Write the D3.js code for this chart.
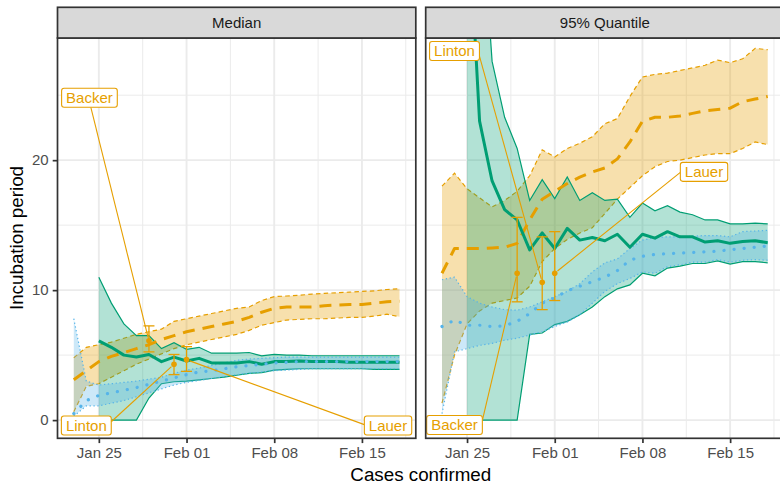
<!DOCTYPE html>
<html><head><meta charset="utf-8">
<script src="https://cdn.jsdelivr.net/npm/d3@7"></script>
<style>body{margin:0;background:#fff;overflow:hidden} svg{display:block}</style>
</head><body><svg id="c" width="780" height="484"></svg>
<script>
// ---------------- DATA ----------------
const dates = ["2020-01-23","2020-01-24","2020-01-25","2020-01-26","2020-01-27","2020-01-28","2020-01-29",
  "2020-01-30","2020-01-31","2020-02-01","2020-02-02","2020-02-03","2020-02-04","2020-02-05","2020-02-06",
  "2020-02-07","2020-02-08","2020-02-09","2020-02-10","2020-02-11","2020-02-12","2020-02-13","2020-02-14",
  "2020-02-15","2020-02-16","2020-02-17","2020-02-18"];
const panelNames = ["Median", "95% Quantile"];

// Median panel
const medOrangeMid = [3.1,3.8,4.5,4.9,5.2,5.5,5.8,6.2,6.5,6.8,7.0,7.2,7.4,7.6,7.9,8.3,8.6,8.7,8.7,8.7,8.8,8.85,8.9,8.9,9.0,9.1,9.15];
const medOrangeHi  = [4.8,5.6,5.8,6.0,6.3,6.6,6.8,7.0,7.6,7.8,8.0,8.2,8.4,8.6,8.7,9.2,9.5,9.55,9.6,9.7,9.75,9.8,9.85,9.9,9.95,10.05,10.1];
const medOrangeLo  = [0.64,2.6,2.8,3.3,3.8,4.3,4.7,5.1,5.5,5.8,6.0,6.2,6.4,6.6,6.9,7.3,7.5,7.7,7.75,7.8,7.8,7.85,7.9,7.9,8.0,8.15,7.95];
const medGreenMid  = [null,null,6.1,5.6,5.0,4.85,5.05,4.5,4.85,4.55,4.75,4.4,4.4,4.4,4.5,4.3,4.5,4.5,4.55,4.5,4.5,4.5,4.45,4.45,4.45,4.45,4.45];
const medGreenHi   = [null,null,11.0,9.0,7.4,6.5,6.5,5.5,5.95,5.45,5.6,5.15,5.15,5.15,5.2,4.95,5.05,5.0,5.0,4.95,4.95,4.95,4.95,4.95,4.95,4.95,4.95];
const medGreenLo   = [null,null,0,0,0,0,1.7,2.8,2.95,3.0,3.1,3.2,3.3,3.45,3.6,3.65,3.85,3.9,3.95,3.95,3.95,3.95,3.95,3.95,3.9,3.9,3.9];
const medBlueMid   = [0.5,1.5,1.9,2.1,2.3,2.5,2.75,3.0,3.25,3.5,3.7,3.8,3.95,4.1,4.2,4.3,4.4,4.45,4.5,4.5,4.5,4.5,4.5,4.5,4.5,4.5,4.5];
const medBlueHi    = [7.8,3.0,2.7,2.8,2.9,3.0,3.15,3.3,3.6,3.85,4.0,4.2,4.4,4.6,4.7,4.75,4.8,4.85,4.85,4.85,4.85,4.85,4.85,4.85,4.85,4.85,4.85];
const medBlueLo    = [0.3,1.1,1.1,1.3,1.5,1.8,2.1,2.4,2.7,2.9,3.05,3.2,3.35,3.5,3.6,3.7,3.8,3.85,3.9,3.95,3.95,3.95,3.95,3.95,3.95,3.95,3.95];

// 95% quantile panel
const q95OrangeMid = [11.3,13.2,13.2,13.2,13.25,13.3,13.6,15.4,17.0,17.6,18.2,18.7,19.1,19.4,20.1,21.4,23.0,23.3,23.3,23.4,23.6,23.8,23.9,24.0,24.5,24.7,24.9];
const q95OrangeHi  = [18.0,19.0,17.8,17.1,16.4,16.9,17.6,18.8,20.8,20.25,20.9,21.3,21.8,22.8,23.2,24.9,26.4,26.6,26.7,26.9,27.1,27.3,27.7,27.5,27.8,28.6,28.5];
const q95OrangeLo  = [1.3,5.0,7.4,8.4,9.0,9.2,9.4,10.3,12.2,13.2,13.9,14.4,14.8,15.9,17.0,17.9,18.8,19.5,19.9,20.0,20.2,20.4,20.5,20.5,20.9,21.4,21.2];
const q95GreenMid  = [null,null,40.8,23.0,18.4,16.2,15.4,13.1,14.4,13.2,14.75,13.85,14.05,13.8,14.3,13.3,14.3,14.0,14.5,14.1,14.1,13.7,13.8,13.6,13.75,13.8,13.65];
const q95GreenHi   = [null,null,60,41.6,27.6,23.3,20.9,16.9,18.5,17.05,18.7,16.9,17.5,16.9,17.0,15.6,16.7,16.1,16.5,16.0,15.8,15.4,15.4,15.1,15.1,15.15,15.1];
const q95GreenLo   = [null,null,0,0,0,0,0,6.6,6.7,7.35,7.6,8.1,8.7,9.5,10.1,10.4,11.3,11.1,11.7,11.85,12.05,12.05,12.25,12.0,12.2,12.2,12.1];
const q95BlueMid   = [7.2,7.7,7.3,7.3,7.2,7.25,7.6,8.2,9.0,9.4,9.95,10.3,10.65,11.0,11.5,12.3,12.6,12.75,12.8,12.85,12.9,12.95,13.0,13.1,13.2,13.3,13.4];
const q95BlueHi    = [10.8,11.0,9.5,9.0,8.7,8.5,8.45,8.7,9.1,9.5,9.9,10.5,11.4,12.1,12.4,13.2,13.85,14.05,14.1,14.1,14.15,14.2,14.2,14.1,14.5,14.55,14.6];
const q95BlueLo    = [0.5,5.25,5.5,5.75,5.9,6.15,6.3,6.55,6.8,7.2,7.55,8.1,9.0,9.9,10.5,10.9,11.4,11.3,11.8,11.95,12.15,12.15,12.35,12.15,12.3,12.35,12.3];

// Published estimates
const studies     = ["Backer", "Linton", "Lauer"];
const studyDates  = ["2020-01-29", "2020-01-31", "2020-02-01"];
const medStudyEst = [6.1, 4.3, 4.65];
const medStudyLo  = [5.25, 3.5, 3.75];
const medStudyHi  = [7.25, 5.05, 5.65];
const q95StudyEst = [11.3, 10.6, 11.3];
const q95StudyLo  = [9.1, 8.5, 9.2];
const q95StudyHi  = [15.6, 14.1, 14.5];

const xTickDates  = ["2020-01-25", "2020-02-01", "2020-02-08", "2020-02-15"];
const xTickLabels = ["Jan 25", "Feb 01", "Feb 08", "Feb 15"];
const xMinorDates = ["2020-01-21T12:00:00Z", "2020-01-28T12:00:00Z", "2020-02-04T12:00:00Z", "2020-02-11T12:00:00Z", "2020-02-18T12:00:00Z"];
const yTicks      = [0, 10, 20];
const yMinor      = [5, 15, 25];

// label placement (data units) and segment start on the box (fractions of half-size)
const labelLayout = [
  { Backer: {d:"2020-01-24T06:00:00Z", v:24.8, fx:0.05, fy:1},
    Linton: {d:"2020-01-24T00:00:00Z", v:-0.42, fx:1, fy:-0.4},
    Lauer:  {d:"2020-02-17T02:00:00Z", v:-0.42, fx:-1, fy:-0.1} },
  { Linton: {d:"2020-01-24T00:00:00Z", v:28.4, fx:1, fy:0.55},
    Lauer:  {d:"2020-02-12T22:00:00Z", v:19.1, fx:-1, fy:0.05},
    Backer: {d:"2020-01-24T00:00:00Z", v:-0.38, fx:1, fy:-0.5} }
];

// ---------------- BUILD ----------------
const parse = s => new Date(s.length === 10 ? s + "T00:00:00Z" : s);
const D = dates.map(parse);
const day = 864e5;
const panelsData = [
  { name: panelNames[0],
    orange: [medOrangeLo, medOrangeMid, medOrangeHi], green: [medGreenLo, medGreenMid, medGreenHi], blue: [medBlueLo, medBlueMid, medBlueHi],
    est: medStudyEst, lo: medStudyLo, hi: medStudyHi },
  { name: panelNames[1],
    orange: [q95OrangeLo, q95OrangeMid, q95OrangeHi], green: [q95GreenLo, q95GreenMid, q95GreenHi], blue: [q95BlueLo, q95BlueMid, q95BlueHi],
    est: q95StudyEst, lo: q95StudyLo, hi: q95StudyHi }
];

const COL = { orange: "#E69F00", green: "#009E73", blue: "#56B4E9" };
const FILL = { orange: "rgba(230,159,0,0.32)", green: "rgba(0,158,115,0.3)", blue: "rgba(86,180,233,0.3)" };
const FONT = "'Liberation Sans', Arial, Helvetica, sans-serif";

const svg = d3.select("#c");
const panelTop = 38, panelBottom = 438.3, stripTop = 7.3;
const panelX = [[57.5, 415.8], [425.7, 784]];
const xDomain = [new Date(+D[0] - 1.3 * day), new Date(+D[D.length - 1] + 1.3 * day)];
const y = d3.scaleLinear().domain([-1.4, 29.4]).range([panelBottom, panelTop]);
const defs = svg.append("defs");

panelsData.forEach((P, pi) => {
  const [x0, x1] = panelX[pi];
  const x = d3.scaleUtc().domain(xDomain).range([x0, x1]);
  const g = svg.append("g");
  const clipId = "clip" + pi;
  defs.append("clipPath").attr("id", clipId).append("rect")
    .attr("x", x0).attr("y", panelTop).attr("width", x1 - x0).attr("height", panelBottom - panelTop);

  g.append("rect").attr("x", x0).attr("y", panelTop).attr("width", x1 - x0).attr("height", panelBottom - panelTop).attr("fill", "#fff");
  const grid = g.append("g").attr("clip-path", `url(#${clipId})`);
  // minor grid
  yMinor.forEach(v => grid.append("line").attr("x1", x0).attr("x2", x1).attr("y1", y(v)).attr("y2", y(v)).attr("stroke", "#EBEBEB").attr("stroke-width", 1));
  xMinorDates.forEach(s => grid.append("line").attr("x1", x(parse(s))).attr("x2", x(parse(s))).attr("y1", panelTop).attr("y2", panelBottom).attr("stroke", "#EBEBEB").attr("stroke-width", 1));
  // major grid
  yTicks.forEach(v => grid.append("line").attr("x1", x0).attr("x2", x1).attr("y1", y(v)).attr("y2", y(v)).attr("stroke", "#EBEBEB").attr("stroke-width", 1.9));
  xTickDates.forEach(s => grid.append("line").attr("x1", x(parse(s))).attr("x2", x(parse(s))).attr("y1", panelTop).attr("y2", panelBottom).attr("stroke", "#EBEBEB").attr("stroke-width", 1.9));

  const data = g.append("g").attr("clip-path", `url(#${clipId})`);
  const rows = key => D.map((d, i) => ({ d, lo: P[key][0][i], mid: P[key][1][i], hi: P[key][2][i] }));
  const borderDash = { orange: "4.5,3.2", green: null, blue: "1.3,2.6" };
  ["orange", "green", "blue"].forEach(key => {
    const r = rows(key);
    const def = d => d.lo != null;
    data.append("path").datum(r).attr("fill", FILL[key])
      .attr("d", d3.area().defined(def).x(d => x(d.d)).y0(d => y(d.lo)).y1(d => y(d.hi)));
    ["lo", "hi"].forEach(f => {
      data.append("path").datum(r).attr("fill", "none").attr("stroke", COL[key]).attr("stroke-width", 1.2)
        .attr("stroke-dasharray", borderDash[key])
        .attr("d", d3.line().defined(def).x(d => x(d.d)).y(d => y(d[f])));
    });
  });
  const midStyle = { orange: ["12,8", "butt"], green: [null, "butt"], blue: ["0.1,10", "round"] };
  ["orange", "green", "blue"].forEach(key => {
    const r = rows(key);
    data.append("path").datum(r).attr("fill", "none").attr("stroke", COL[key]).attr("stroke-width", key === "blue" ? 3.2 : 3)
      .attr("stroke-dasharray", midStyle[key][0]).attr("stroke-linecap", midStyle[key][1]).attr("stroke-linejoin", "round")
      .attr("d", d3.line().defined(d => d.mid != null).x(d => x(d.d)).y(d => y(d.mid)));
  });

  // labels (measure first)
  const lay = labelLayout[pi];
  const labG = g.append("g");
  const segG = labG.append("g");
  const barG = labG.append("g");
  const boxG = labG.append("g");
  studies.forEach((s, i) => {
    const px = x(parse(studyDates[i])), py = y(P.est[i]);
    const L = lay[s];
    const cx = x(parse(L.d)), cy = y(L.v);
    const t = boxG.append("text").attr("x", cx).attr("y", cy + 5.3).attr("text-anchor", "middle")
      .attr("font-family", FONT).attr("font-size", 15).attr("fill", COL.orange).text(s);
    const w = t.node().getComputedTextLength() + 9, h = 19;
    boxG.insert("rect", "text").attr("x", cx - w / 2).attr("y", cy - h / 2).attr("width", w).attr("height", h)
      .attr("rx", 2.5).attr("fill", "#fff").attr("stroke", COL.orange).attr("stroke-width", 1.1);
    const sx = cx + L.fx * w / 2, sy = cy + L.fy * h / 2;
    const dx = px - sx, dy = py - sy, len = Math.hypot(dx, dy);
    const ex = px - dx / len * 3.5, ey = py - dy / len * 3.5;
    segG.append("line").attr("x1", sx).attr("y1", sy).attr("x2", ex).attr("y2", ey)
      .attr("stroke", COL.orange).attr("stroke-width", 1.1);
    // error bar
    const ylo = y(P.lo[i]), yhi = y(P.hi[i]);
    barG.append("line").attr("x1", px).attr("x2", px).attr("y1", ylo).attr("y2", yhi).attr("stroke", COL.orange).attr("stroke-width", 1.3);
    [ylo, yhi].forEach(yy => barG.append("line").attr("x1", px - 5.5).attr("x2", px + 5.5).attr("y1", yy).attr("y2", yy).attr("stroke", COL.orange).attr("stroke-width", 1.3));
    barG.append("circle").attr("cx", px).attr("cy", py).attr("r", 2.8).attr("fill", COL.orange);
  });

  // panel border
  g.append("rect").attr("x", x0).attr("y", panelTop).attr("width", x1 - x0).attr("height", panelBottom - panelTop)
    .attr("fill", "none").attr("stroke", "#333333").attr("stroke-width", 1.7);
  // strip
  g.append("rect").attr("x", x0).attr("y", stripTop).attr("width", x1 - x0).attr("height", panelTop - stripTop)
    .attr("fill", "#D9D9D9").attr("stroke", "#333333").attr("stroke-width", 1.7);
  g.append("text").attr("x", (x0 + Math.min(x1, 784)) / 2).attr("y", 28.2).attr("text-anchor", "middle")
    .attr("font-family", FONT).attr("font-size", 15).attr("fill", "#1A1A1A").text(P.name);

  // x axis
  const xa = g.append("g").attr("transform", `translate(0,${panelBottom})`)
    .call(d3.axisBottom(x).tickValues(xTickDates.map(parse)).tickFormat((d, i) => xTickLabels[i]).tickSize(4.8).tickPadding(4.2));
  xa.select(".domain").remove();
  xa.selectAll("line").attr("stroke", "#333333").attr("stroke-width", 1.7);
  xa.selectAll("text").attr("font-family", FONT).attr("font-size", 15).attr("fill", "#4D4D4D");

  if (pi === 0) {
    const ya = g.append("g").attr("transform", `translate(${x0},0)`)
      .call(d3.axisLeft(y).tickValues(yTicks).tickSize(4.8).tickPadding(4));
    ya.select(".domain").remove();
    ya.selectAll("line").attr("stroke", "#333333").attr("stroke-width", 1.7);
    ya.selectAll("text").attr("font-family", FONT).attr("font-size", 15).attr("fill", "#4D4D4D");
  }
});

svg.append("text").attr("x", 420.8).attr("y", 481).attr("text-anchor", "middle")
  .attr("font-family", FONT).attr("font-size", 18.8).attr("fill", "#000").text("Cases confirmed");
svg.append("text").attr("transform", "translate(23,238) rotate(-90)").attr("text-anchor", "middle")
  .attr("font-family", FONT).attr("font-size", 18.8).attr("fill", "#000").text("Incubation period");
</script></body></html>
